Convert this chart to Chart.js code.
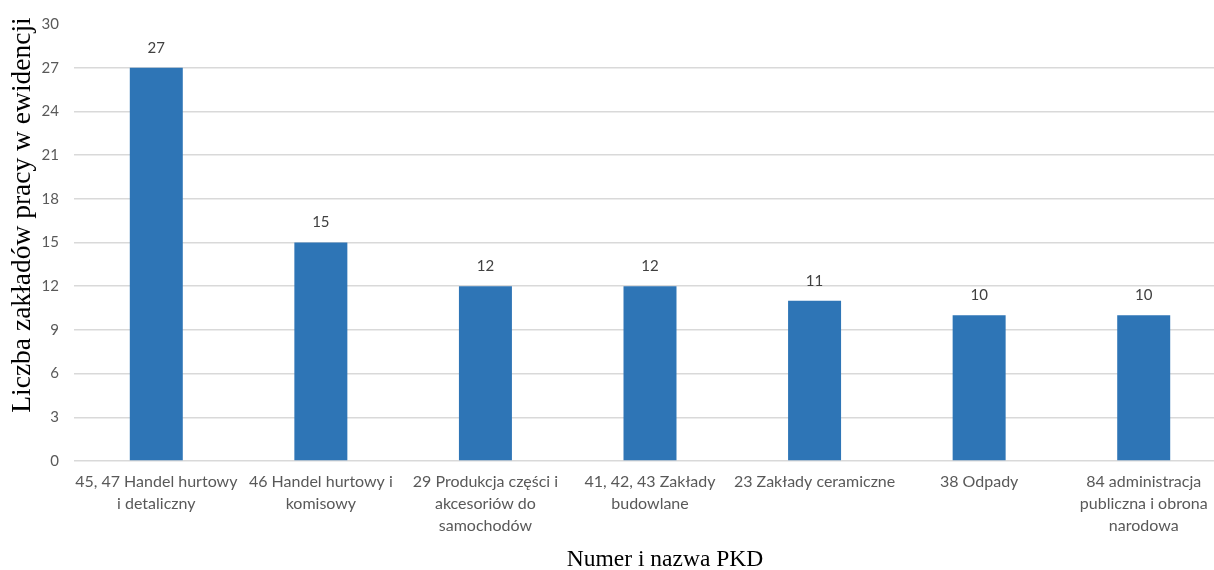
<!DOCTYPE html>
<html><head><meta charset="utf-8">
<script src="https://cdn.jsdelivr.net/npm/chart.js@4"></script>
<style>html,body{margin:0;padding:0;background:#fff;overflow:hidden}#w{width:1226px;height:570px}</style>
</head><body><div id="w"><canvas id="c"></canvas></div>
<script>
const categories = [
  ["45, 47 Handel hurtowy", "i detaliczny"],
  ["46 Handel hurtowy i", "komisowy"],
  ["29 Produkcja części i", "akcesoriów do", "samochodów"],
  ["41, 42, 43 Zakłady", "budowlane"],
  ["23 Zakłady ceramiczne"],
  ["38 Odpady"],
  ["84 administracja", "publiczna i obrona", "narodowa"]
];
const values = [27, 15, 12, 12, 11, 10, 10];
const yTicks = [0, 3, 6, 9, 12, 15, 18, 21, 24, 27, 30];
const yTitle = "Liczba zakładów pracy w ewidencji";
const xTitle = "Numer i nazwa PKD";

const labelPlugin = {
  id: 'lbl',
  afterDatasetsDraw(chart) {
    const ctx = chart.ctx;
    const meta = chart.getDatasetMeta(0);
    ctx.save();
    ctx.font = '15px Lato';
    ctx.fillStyle = '#404040';
    ctx.textAlign = 'center';
    ctx.textBaseline = 'middle';
    meta.data.forEach((el, i) => {
      ctx.fillText(String(values[i]), el.x, el.y - 20);
    });
    ctx.restore();
  },
  afterDraw(chart) {
    const ctx = chart.ctx;
    ctx.save();
    ctx.fillStyle = '#000';
    ctx.textAlign = 'center';
    ctx.textBaseline = 'middle';
    ctx.font = '23.5px "Liberation Serif"';
    ctx.fillText(xTitle, 665, 560);
    ctx.font = '27.5px "Liberation Serif"';
    ctx.translate(23, 215);
    ctx.rotate(-Math.PI / 2);
    ctx.fillText(yTitle, 0, 0);
    ctx.restore();
  }
};

new Chart(document.getElementById('c'), {
  type: 'bar',
  data: {
    labels: categories,
    datasets: [{
      data: values,
      backgroundColor: '#2E75B6',
      borderWidth: 0,
      barPercentage: 0.322,
      categoryPercentage: 1.0
    }]
  },
  options: {
    responsive: true,
    maintainAspectRatio: false,
    animation: false,
    layout: { padding: { top: 22, right: 0, left: 0, bottom: 0 } },
    plugins: { legend: { display: false }, tooltip: { enabled: false } },
    scales: {
      x: {
        grid: { display: false, drawTicks: false },
        border: { display: false },
        ticks: { color: '#595959', font: { family: 'Lato', size: 16, lineHeight: 1.38 }, padding: 10, maxRotation: 0, autoSkip: false },
        afterFit(s) { s.height = 109; }
      },
      y: {
        min: 0, max: 30,
        afterBuildTicks(s) { s.ticks = yTicks.map(v => ({ value: v })); },
        grid: {
          color: ctx => (ctx.tick && ctx.tick.value === 30) ? 'rgba(0,0,0,0)' : '#D9D9D9',
          lineWidth: 1.5,
          drawTicks: false
        },
        border: { display: false },
        ticks: { color: '#595959', font: { family: 'Lato', size: 15 }, padding: 15 },
        afterFit(s) { s.width = 74; }
      }
    }
  },
  plugins: [labelPlugin]
});
</script>
</body></html>
